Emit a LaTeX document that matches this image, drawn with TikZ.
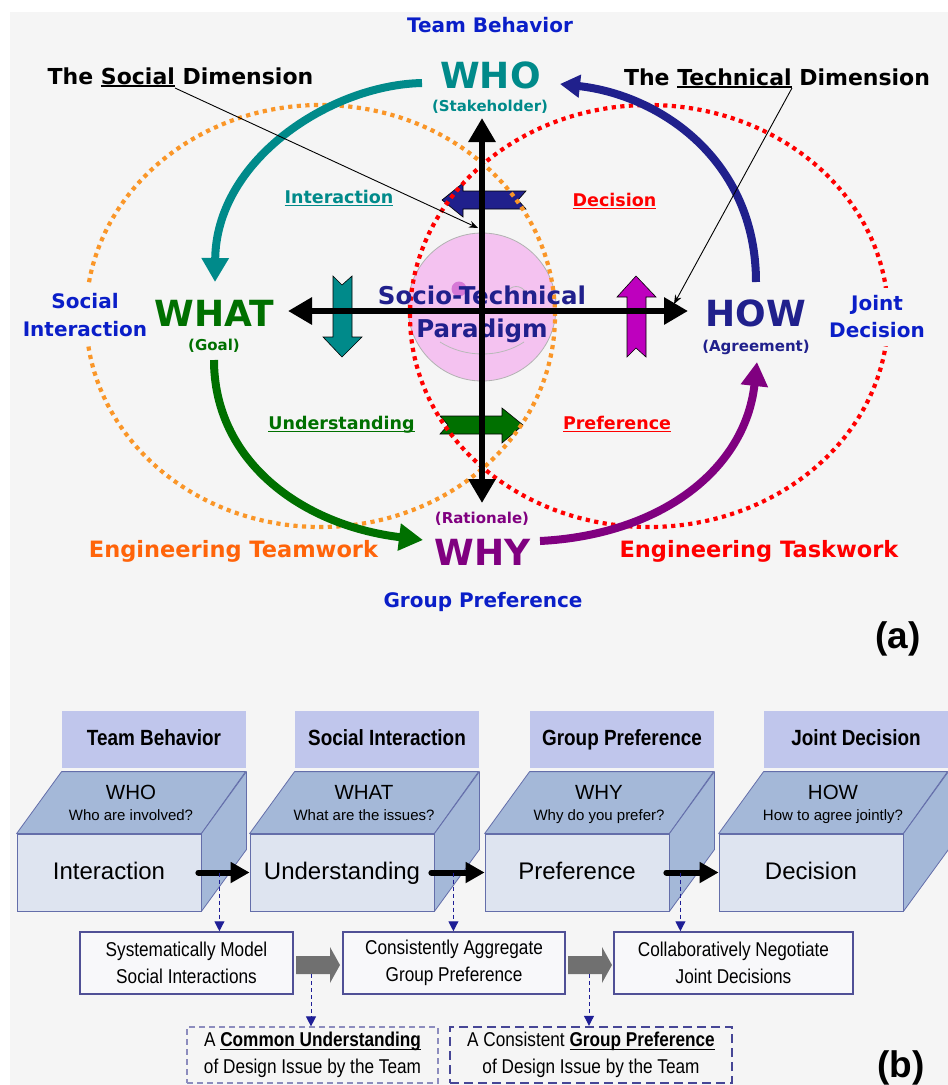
\documentclass[tikz,border=0pt]{standalone}
\usepackage{fontspec}
\setmainfont{DejaVu Sans}
\newfontfamily\arialf{Liberation Sans}
\newfontfamily\narrowf[FakeStretch=0.86]{Liberation Sans}
\usetikzlibrary{arrows.meta}
\newcommand\fsz[2]{\fontsize{#1}{#2}\selectfont}
\newcommand\ulx[2][1.6pt]{\setbox0\hbox{#2}\leavevmode\rlap{\rule[-3pt]{\wd0}{#1}}\box0\relax}
\definecolor{bg}{RGB}{245,245,245}
\definecolor{lblue}{RGB}{10,30,200}
\definecolor{tealc}{RGB}{0,138,138}
\definecolor{dgreen}{RGB}{0,112,0}
\definecolor{navyc}{RGB}{32,32,140}
\definecolor{purp}{RGB}{128,0,128}
\definecolor{orng}{RGB}{255,100,10}
\definecolor{dotor}{RGB}{250,150,40}
\definecolor{magn}{RGB}{190,0,190}
\definecolor{pinkc}{RGB}{244,194,240}
\definecolor{eyec}{RGB}{214,120,214}
\definecolor{hdr}{RGB}{192,198,236}
\definecolor{cubetop}{RGB}{164,184,216}
\definecolor{cubefront}{RGB}{222,228,240}
\definecolor{cubeline}{RGB}{100,110,170}
\definecolor{boxline}{RGB}{80,80,150}
\definecolor{boxfill}{RGB}{248,248,250}
\definecolor{dasharrc}{RGB}{30,30,150}
\definecolor{grayarr}{RGB}{112,112,112}
\definecolor{resline1}{RGB}{140,140,190}
\definecolor{resline2}{RGB}{70,70,150}
\begin{document}
\begin{tikzpicture}[x=1pt,y=-1pt,
  lab/.style={inner sep=0pt, anchor=base},
  dotline/.style={line width=4.2pt, dash pattern=on 4.2pt off 4.4pt},
  bigcurve/.style={line width=8pt, -{Triangle[width=26pt,length=24pt]}},
  axisarr/.style={line width=6pt, {Triangle[width=26pt,length=24pt]}-{Triangle[width=26pt,length=24pt]}},
  blockarr/.style={draw=black, line width=0.6pt, line join=miter},
  pointer/.style={line width=0.9pt, -{Stealth[length=9pt,width=7pt]}},
  hdrbox/.style={fill=hdr, inner sep=0pt, minimum width=184pt, minimum height=57pt, text height=16pt, text depth=4pt, font=\narrowf\bfseries\fsz{22}{26}},
  frontbox/.style={fill=cubefront, draw=cubeline, line width=0.8pt, inner sep=0pt, minimum width=184pt, minimum height=77pt, text height=18pt, text depth=4pt, font=\arialf\fsz{24}{28}},
  cubeface/.style={fill=cubetop, draw=cubeline, line width=0.8pt, line join=round},
  cubearr/.style={line width=6pt, line cap=round, -{Triangle[width=20pt,length=19pt]}},
  dasharr/.style={dasharrc, line width=1pt, dash pattern=on 4pt off 3pt, -{Triangle[width=10pt,length=10pt]}},
  midbox/.style={draw=boxline, line width=1.5pt, fill=boxfill, inner sep=0pt, minimum height=62pt, align=center, font=\narrowf\fsz{20}{27}},
  resbox/.style={inner sep=0pt, minimum height=56pt, align=center, font=\narrowf\fsz{20}{27}},
]
\useasboundingbox (0,0) rectangle (948,1085);
\fill[white] (0,0) rectangle (948,1085);
\fill[bg] (10,12) rectangle (948,1085);

% ---------- panel (a) ----------
% sphere
\node[circle, fill=pinkc, draw=gray!60, line width=0.8pt, minimum size=148pt, inner sep=0pt] (sphere) at (482,307) {};
\fill[eyec] (459,289) circle[radius=7.5pt];
\draw[gray!55, line width=0.8pt] (506,294) .. controls (510,284) and (522,284) .. (527,294);
\draw[gray!55, line width=0.8pt] (440,342) .. controls (465,358) and (500,358) .. (524,342);

% block arrows
\filldraw[blockarr, fill=navyc] (442,200) -- (463,183) -- (463,191) -- (526,191) -- (518,200) -- (526,209) -- (463,209) -- (463,217) -- cycle;
\filldraw[blockarr, fill=tealc] (333,276) -- (342,285) -- (352,276) -- (352,337) -- (362,337) -- (342,357) -- (323,337) -- (333,337) -- cycle;
\filldraw[blockarr, fill=magn] (636,276) -- (656,297) -- (646,297) -- (646,357) -- (636,348) -- (627,357) -- (627,297) -- (617,297) -- cycle;
\filldraw[blockarr, fill=dgreen] (440,416) -- (502,416) -- (502,408) -- (523,425) -- (502,443) -- (502,434) -- (440,434) -- (448,425) -- cycle;

% dotted ellipses
\draw[dotor, dotline] (320.5,316) ellipse [x radius=234.5pt, y radius=211pt];
\draw[red, dotline] (649,316) ellipse [x radius=239pt, y radius=211pt];

% text labels
\node[lab, text=lblue, font=\bfseries\fsz{20}{24}] (teamb) at (490,32) {Team Behavior};
\node[lab, text=tealc, font=\bfseries\fsz{36}{40}] (who) at (490.5,88) {WHO};
\node[lab, text=tealc, font=\bfseries\fsz{15}{17}] (stake) at (490,111) {(Stakeholder)};
\node[lab, font=\bfseries\fsz{22}{26}] (socdim) at (180.5,84) {The \ulx{Social} Dimension};
\node[lab, font=\bfseries\fsz{22}{26}] (techdim) at (777,85) {The \ulx{Technical} Dimension};
\node[lab, text=tealc, font=\bfseries\fsz{17.5}{20}] (linter) at (339,203) {\ulx[1.3pt]{Interaction}};
\node[lab, text=red, font=\bfseries\fsz{17.5}{20}] (ldec) at (614.5,206) {\ulx[1.3pt]{Decision}};
\node[fill=bg, inner xsep=2pt, inner ysep=8pt, align=center, text=lblue, font=\bfseries\fsz{20}{28}] (socint) at (85,315) {Social\\Interaction};
\node[fill=bg, inner xsep=2pt, inner ysep=8pt, align=center, text=lblue, font=\bfseries\fsz{20}{27}] (jd) at (877,317) {Joint\\Decision};
\node[lab, text=dgreen, font=\bfseries\fsz{36}{40}] (what) at (214.5,326) {WHAT};
\node[lab, text=dgreen, font=\bfseries\fsz{15}{17}] (goal) at (214,350) {(Goal)};
\node[inner sep=0pt, align=center, text=navyc, font=\bfseries\fsz{24.5}{33}] (stp) at (482,314) {Socio-Technical\\Paradigm};
\node[lab, text=navyc, font=\bfseries\fsz{36}{40}] (how) at (756,326) {HOW};
\node[lab, text=navyc, font=\bfseries\fsz{15}{17}] (agree) at (756,351) {(Agreement)};
\node[lab, text=dgreen, font=\bfseries\fsz{17.5}{20}] (lund) at (341.5,429) {\ulx[1.3pt]{Understanding}};
\node[lab, text=red, font=\bfseries\fsz{17.5}{20}] (lpref) at (617,429) {\ulx[1.3pt]{Preference}};
\node[lab, text=purp, font=\bfseries\fsz{15}{17}] (rat) at (482,523) {(Rationale)};
\node[lab, text=purp, font=\bfseries\fsz{36}{40}] (why) at (482.5,565) {WHY};
\node[lab, text=orng, font=\bfseries\fsz{22.5}{26}] (engtm) at (233.5,557) {Engineering Teamwork};
\node[lab, text=red, font=\bfseries\fsz{22.5}{26}] (engtk) at (759,557) {Engineering Taskwork};
\node[lab, text=lblue, font=\bfseries\fsz{20}{24}] (gp) at (483,607) {Group Preference};
\node[lab, font=\arialf\bfseries\fsz{37}{40}] (pa) at (898,648) {(a)};

% curved arrows
\coordinate (whoL) at (422,83);  \coordinate (whatT) at (215,282);
\coordinate (howT) at (756,282); \coordinate (whoR) at (560,84);
\coordinate (whatB) at (214,360); \coordinate (whyL) at (423,540);
\coordinate (whyR) at (540,541); \coordinate (howB) at (757,362);
\draw[bigcurve, tealc] (whoL) .. controls (330,85) and (216,160) .. (whatT);
\draw[line width=8pt, navyc, -{Triangle[width=22pt,length=20pt]}] (howT) .. controls (756,160) and (660,95) .. (whoR);
\draw[bigcurve, dgreen] (whatB) .. controls (214,460) and (300,525) .. (whyL);
\draw[bigcurve, purp] (whyR) .. controls (660,535) and (745,470) .. (howB);

% black axes
\coordinate (vt) at (482,118); \coordinate (vb) at (482,503);
\coordinate (hl) at (288,311); \coordinate (hr) at (688,311);
\draw[axisarr] (vt) -- (vb);
\draw[axisarr] (hl) -- (hr);

% pointers
\coordinate (socEnd) at (175,88); \coordinate (socTip) at (478,228);
\coordinate (tecEnd) at (792,88); \coordinate (tecTip) at (674,304);
\draw[pointer] (socEnd) -- (socTip);
\draw[pointer] (tecEnd) -- (tecTip);

% ---------- panel (b) ----------
\foreach \x/\i/\h/\ta/\tb/\fr in {17/1/Team Behavior/WHO/Who are involved?/Interaction, 250/2/Social Interaction/WHAT/What are the issues?/Understanding, 485/3/Group Preference/WHY/Why do you prefer?/Preference, 719/4/Joint Decision/HOW/How to agree jointly?/Decision}{
  \node[hdrbox] (hdr\i) at (\x+137,739.5) {\h};
  \node[frontbox] (front\i) at (\x+92,872.5) {\fr};
  \filldraw[cubeface] (front\i.north west) -- ++(45,-62) -- ++(184,0) -- (front\i.north east) -- cycle;
  \filldraw[cubeface] (front\i.north east) -- ++(45,-62) -- ++(0,78) -- (front\i.south east) -- cycle;
  \node[lab, font=\arialf\fsz{20.5}{24}] (top\i) at (\x+114,799) {\ta};
  \node[lab, font=\arialf\fsz{15}{18}] (q\i) at (\x+114,820) {\tb};
}

\node[midbox, minimum width=213pt] (boxA) at (186.5,963) {Systematically Model\\Social Interactions};
\node[midbox, minimum width=222pt] (boxB) at (454,963) {Consistently Aggregate\\Group Preference};
\node[midbox, minimum width=239pt] (boxC) at (733.5,963) {Collaboratively Negotiate\\Joint Decisions};

\node[resbox, minimum width=251pt, draw=resline1, line width=1.2pt, dash pattern=on 6pt off 4pt] (boxD) at (312.5,1055) {A \textbf{\ulx[1pt]{Common Understanding}}\\of Design Issue by the Team};
\node[resbox, minimum width=282pt, draw=resline2, line width=2.4pt, dash pattern=on 9pt off 5pt] (boxE) at (591,1055) {A Consistent \textbf{\ulx[1pt]{Group Preference}}\\of Design Issue by the Team};

% black arrows between cubes
\foreach \a/\b in {1/2,2/3,3/4} \draw[cubearr] ([xshift=-3pt]front\a.east) -- (front\b.west);

% dashed arrows
\coordinate (d1) at ([xshift=18pt]front1.east);
\coordinate (d2) at ([xshift=19pt]front2.east);
\coordinate (d3) at ([xshift=11pt]front3.east);
\draw[dasharr] (d1) -- (d1 |- boxA.north);
\draw[dasharr] (d2) -- (d2 |- boxB.north);
\draw[dasharr] (d3) -- (d3 |- boxC.north);

% gray block arrows
\fill[grayarr] (296,956) -- (330,956) -- (330,947) -- (340,965) -- (330,983) -- (330,974) -- (296,974) -- cycle;
\fill[grayarr] (568,956) -- (602,956) -- (602,947) -- (612,965) -- (602,983) -- (602,974) -- (568,974) -- cycle;
\coordinate (g1) at (311,974);
\coordinate (g2) at (589,974);
\draw[dasharr] (g1) -- (g1 |- boxD.north);
\draw[dasharr] (g2) -- (g2 |- boxE.north);

\node[lab, font=\arialf\bfseries\fsz{37}{40}] (pb) at (901,1077) {(b)};
\end{tikzpicture}
\end{document}
